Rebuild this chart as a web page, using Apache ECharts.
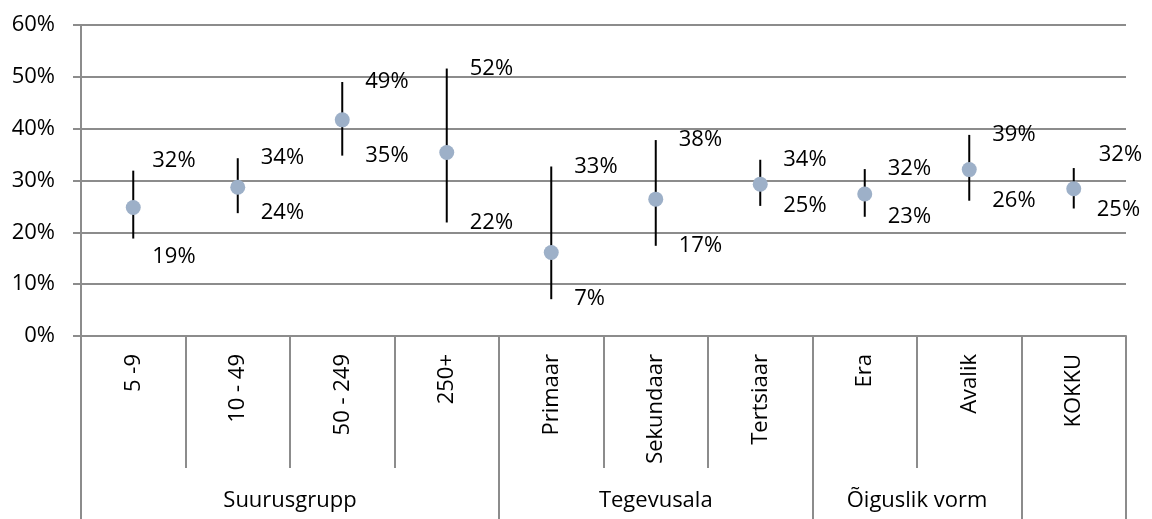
<!DOCTYPE html>
<html>
<head>
<meta charset="utf-8">
<script src="https://cdn.jsdelivr.net/npm/echarts@6/dist/echarts.min.js"></script>
<style>
html,body{margin:0;padding:0;background:#fff;}
#chart{width:1152px;height:519px;}
</style>
</head>
<body>
<div id="chart"></div>
<script>
// ---- data ----
var categories = ['5 -9', '10 - 49', '50 - 249', '250+', 'Primaar', 'Sekundaar', 'Tertsiaar', 'Era', 'Avalik', 'KOKKU'];
var pointValues = [24.8, 28.7, 41.7, 35.4, 16.1, 26.4, 29.3, 27.4, 32.1, 28.4];
var highValues  = [31.9, 34.3, 49.0, 51.6, 32.7, 37.8, 34.0, 32.2, 38.8, 32.4];
var lowValues   = [18.8, 23.7, 34.8, 21.9, 7.1, 17.4, 25.1, 23.0, 26.1, 24.6];
var groupNames  = ['Suurusgrupp', 'Tegevusala', 'Õiguslik vorm', ''];
var groupSpans  = [4, 3, 2, 1];
var yTicks = [0, 10, 20, 30, 40, 50, 60];

// label nudges (layout only)
var highLabelNudge = [[-4, -10], [0, 0], [0, 0], [0, 0], [0, 0], [0, 0], [0, 0], [0, 0], [0, 0], [2, -13]];
var lowLabelNudge  = [[-4, 18], [0, 0], [0, 0], [0, 0], [0, 0], [0, 0], [0, 0], [0, 0], [0, 0], [0, 1]];

var FONT = 'Open Sans';
var GRAY = '#8c8c8c';

// build group axis (half-category resolution)
var groupAxisData = [];
for (var k = 0; k <= categories.length * 2; k++) groupAxisData.push('');
var groupTickIdx = {};
var start = 0;
for (var g = 0; g < groupNames.length; g++) {
  groupTickIdx[start * 2] = true;
  groupAxisData[start * 2 + groupSpans[g]] = groupNames[g];
  start += groupSpans[g];
}
groupTickIdx[start * 2] = true;

var errData = categories.map(function (c, i) { return [i, lowValues[i], highValues[i]]; });

function pct(v) { return Math.round(v) + '%'; }

var chart = echarts.init(document.getElementById('chart'), null, {renderer: 'canvas'});
chart.setOption({
  animation: false,
  backgroundColor: '#fff',
  grid: {left: 81, right: 26, top: 25, bottom: 183, containLabel: false, outerBoundsMode: 'none'},
  xAxis: [
    {
      type: 'category',
      data: categories,
      position: 'bottom',
      boundaryGap: true,
      axisLine: {show: true, lineStyle: {color: GRAY, width: 2}},
      axisTick: {show: true, interval: 0, length: 132, lineStyle: {color: GRAY, width: 2}},
      axisLabel: {interval: 0, rotate: 90, margin: 18, fontFamily: FONT, fontSize: 22, color: '#000'},
      splitLine: {show: false}
    },
    {
      type: 'category',
      data: groupAxisData,
      position: 'bottom',
      boundaryGap: false,
      axisLine: {show: false},
      axisTick: {
        show: true, length: 186, lineStyle: {color: GRAY, width: 2},
        interval: function (idx) { return !!groupTickIdx[idx]; }
      },
      axisLabel: {interval: 0, margin: 154, fontFamily: FONT, fontSize: 22, color: '#000'},
      splitLine: {show: false}
    }
  ],
  yAxis: {
    type: 'value',
    min: yTicks[0],
    max: yTicks[yTicks.length - 1],
    interval: yTicks[1] - yTicks[0],
    axisLine: {show: true, lineStyle: {color: GRAY, width: 2}},
    axisTick: {show: true, length: 8, lineStyle: {color: GRAY, width: 2}},
    axisLabel: {formatter: '{value}%', margin: 26, fontFamily: FONT, fontSize: 22, color: '#000'},
    splitLine: {show: true, lineStyle: {color: GRAY, width: 2}}
  },
  series: [
    {
      type: 'custom',
      xAxisIndex: 0,
      data: errData,
      encode: {x: 0, y: [1, 2]},
      z: 3,
      renderItem: function (params, api) {
        var lo = api.coord([api.value(0), api.value(1)]);
        var hi = api.coord([api.value(0), api.value(2)]);
        return {type: 'line', shape: {x1: lo[0], y1: lo[1], x2: hi[0], y2: hi[1]},
                style: {stroke: '#000', lineWidth: 2}};
      }
    },
    {
      type: 'scatter',
      xAxisIndex: 0,
      data: pointValues,
      symbol: 'circle',
      symbolSize: 15,
      itemStyle: {color: '#9db0c8', opacity: 1},
      z: 4
    },
    {
      type: 'scatter',
      xAxisIndex: 0,
      symbolSize: 0,
      silent: true,
      itemStyle: {opacity: 1},
      data: highValues.map(function (v, i) {
        return {value: v, label: {offset: highLabelNudge[i]}};
      }),
      label: {show: true, position: 'right', distance: 23, formatter: function (p) { return pct(p.value); },
              fontFamily: FONT, fontSize: 22, color: '#000'},
      z: 5
    },
    {
      type: 'scatter',
      xAxisIndex: 0,
      symbolSize: 0,
      silent: true,
      itemStyle: {opacity: 1},
      data: lowValues.map(function (v, i) {
        return {value: v, label: {offset: lowLabelNudge[i]}};
      }),
      label: {show: true, position: 'right', distance: 23, formatter: function (p) { return pct(p.value); },
              fontFamily: FONT, fontSize: 22, color: '#000'},
      z: 5
    }
  ]
});
</script>
</body>
</html>
